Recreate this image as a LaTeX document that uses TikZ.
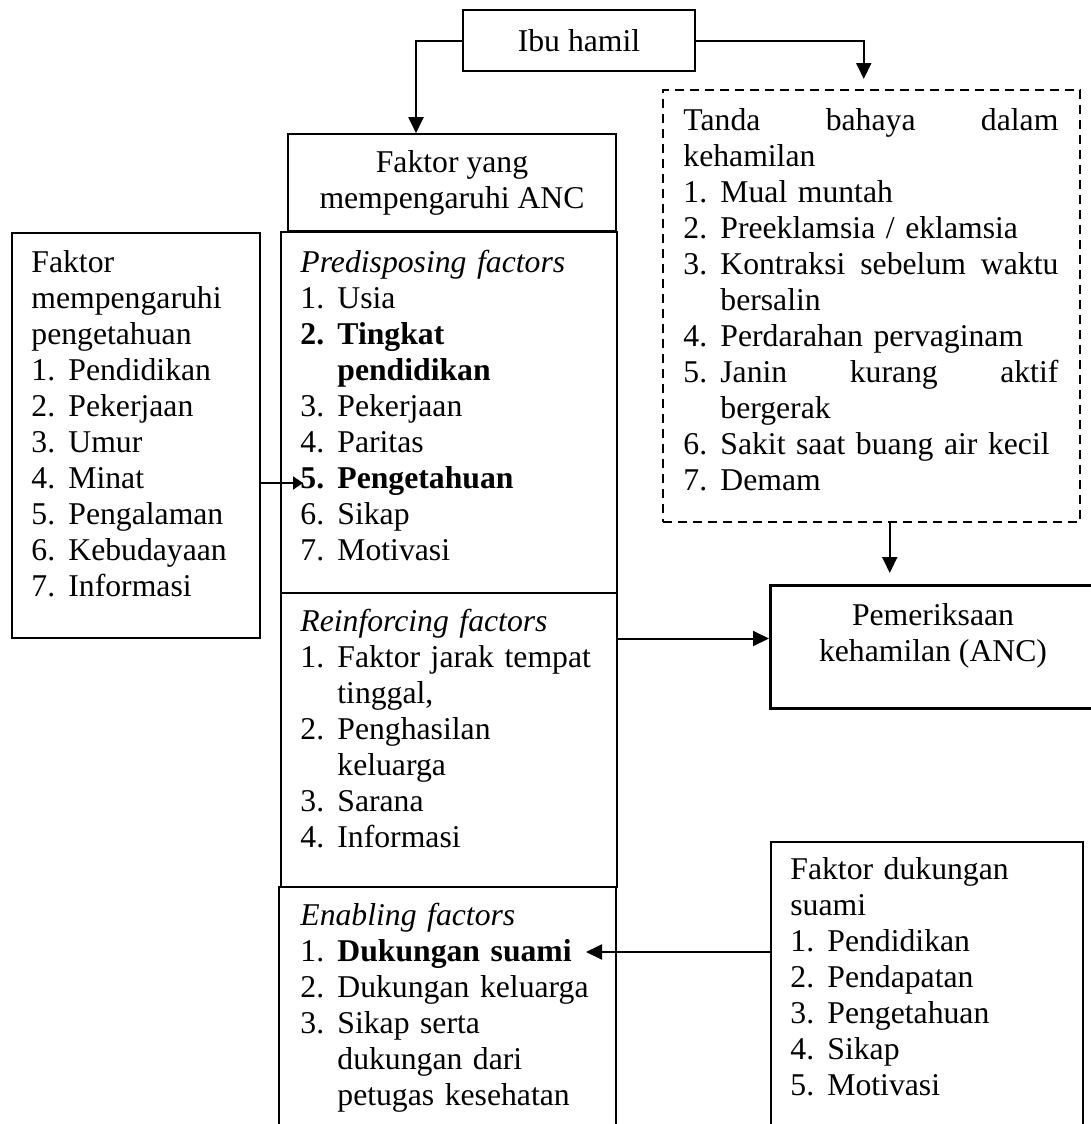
\documentclass[tikz,border=0pt]{standalone}
\usepackage{fontspec}
\setmainfont{Liberation Serif}
\usetikzlibrary{arrows.meta}

\setlength{\parindent}{0pt}
% numbered line with hanging indent
\newcommand{\itm}[2]{\par\hangindent=18.5pt\hangafter=1\makebox[18.5pt][l]{\strut#1}#2}

\begin{document}
\begin{tikzpicture}[x=0.5pt,y=-0.5pt,
	every node/.style={font=\fontsize{15.85}{18}\selectfont},
	box/.style={draw, line width=0.8pt, inner sep=0pt, anchor=north west},
	txt/.style={anchor=north west, inner sep=0pt, align=left},
	arr/.style={line width=1pt, -{Triangle[length=8pt,width=7.5pt]}},
	arrsmall/.style={line width=1pt, -{Triangle[length=5pt,width=6.5pt]}}]
	\clip (0,0) rectangle (1091,1124);
	
	% Ibu hamil on top
	\node[box, anchor=center, minimum width=116pt, minimum height=30.5pt] (ibu) at (579,40.5) {Ibu hamil};
	
	% Title of the factor column
	\node[box, anchor=center, minimum width=164pt, minimum height=48.5pt, align=center] (anc) at (452,182.5) {Faktor yang\\mempengaruhi ANC};
	
	% The three parts of the factor column
	\node[box, minimum width=168pt, minimum height=180.5pt] (pred) at (280,231) {};
	\node[box, minimum width=168pt, minimum height=147pt] (reinf) at (280,592) {};
	\node[box, minimum width=168.5pt, minimum height=150pt] (enab) at (278,886) {};
	
	% Knowledge factors on the left
	\node[box, minimum width=124pt, minimum height=202.5pt] (tahu) at (11,232) {};
	
	% Danger signs, dashed
	\node[box, line width=0.75pt, dash pattern=on 4.5pt off 3pt, minimum width=208.5pt, minimum height=216pt] (tanda) at (662,89) {};
	
	% Pregnancy check
	\node[box, line width=1.5pt, minimum width=164pt, minimum height=61.5pt] (periksa) at (769,584) {};
	\node[align=center] (periksatext) at (933,636) {Pemeriksaan\\kehamilan (ANC)};
	
	% Husband support on the right
	\node[box, minimum width=156pt, minimum height=170pt] (suami) at (770,841) {};
	
	% Texts of the boxes
	\node[txt, text width=110pt] (tahutext) at (31,247) {\strut Faktor\newline mempengaruhi\newline pengetahuan
		\itm{1.}{Pendidikan}
		\itm{2.}{Pekerjaan}
		\itm{3.}{Umur}
		\itm{4.}{Minat}
		\itm{5.}{Pengalaman}
		\itm{6.}{Kebudayaan}
		\itm{7.}{Informasi}\par};
	
	\node[txt, text width=150pt] (predtext) at (300,247) {\strut\textit{Predisposing factors}
		\itm{1.}{Usia}
		\itm{\textbf{2.}}{\textbf{Tingkat\newline pendidikan}}
		\itm{3.}{Pekerjaan}
		\itm{4.}{Paritas}
		\itm{\textbf{5.}}{\textbf{Pengetahuan}}
		\itm{6.}{Sikap}
		\itm{7.}{Motivasi}\par};
	
	\node[txt, text width=150pt] (reinftext) at (300,606) {\strut\textit{Reinforcing factors}
		\itm{1.}{Faktor jarak tempat\newline tinggal,}
		\itm{2.}{Penghasilan\newline keluarga}
		\itm{3.}{Sarana}
		\itm{4.}{Informasi}\par};
	
	\node[txt, text width=150pt] (enabtext) at (300,900) {\strut\textit{Enabling factors}
		\itm{1.}{\textbf{Dukungan suami}}
		\itm{2.}{Dukungan keluarga}
		\itm{3.}{Sikap serta\newline dukungan dari\newline petugas kesehatan}\par};
	
	\node[txt, text width=187.5pt] (tandatext) at (683,105) {\strut Tanda\hfill bahaya\hfill dalam\newline kehamilan
		\itm{1.}{Mual muntah}
		\itm{2.}{Preeklamsia / eklamsia}
		\itm{3.}{Kontraksi\hfill sebelum\hfill waktu\newline bersalin}
		\itm{4.}{Perdarahan pervaginam}
		\itm{5.}{Janin\hfill kurang\hfill aktif\newline bergerak}
		\itm{6.}{Sakit saat buang air kecil}
		\itm{7.}{Demam}\par};
	
	\node[txt, text width=140pt] (suamitext) at (790,854) {\strut Faktor dukungan\newline suami
		\itm{1.}{Pendidikan}
		\itm{2.}{Pendapatan}
		\itm{3.}{Pengetahuan}
		\itm{4.}{Sikap}
		\itm{5.}{Motivasi}\par};
	
	% Arrows
	\draw[arr] (ibu.west) -| ([xshift=-18pt]anc.north);
	\draw[arr, shorten >=5pt] (ibu.east) -| ([xshift=-3.75pt]tanda.north);
	
	\coordinate (dn) at ([xshift=9.25pt]tanda.south);
	\draw[arr, shorten >=5.5pt] (dn) -- (dn |- periksa.north);
	
	\coordinate (rk) at ([yshift=4.25pt]periksa.west);
	\draw[arr] (rk -| reinf.east) -- (rk);
	
	\coordinate (pk) at (303,483);
	\draw[arrsmall] (pk -| tahu.east) -- (pk);
	
	\coordinate (ds) at (586,952);
	\draw[arr] (ds -| suami.west) -- (ds);
\end{tikzpicture}
\end{document}
